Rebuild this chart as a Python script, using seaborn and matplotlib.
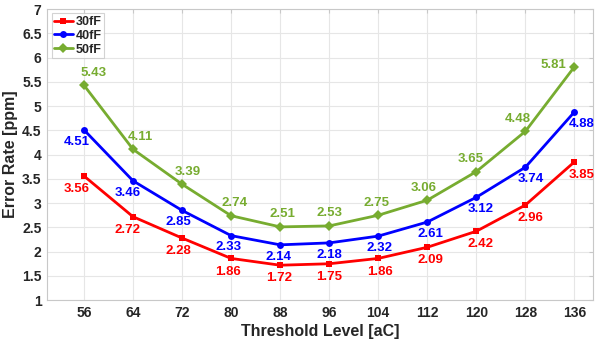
import pandas as pd
import matplotlib.pyplot as plt
import seaborn as sns

thresholds = [56, 64, 72, 80, 88, 96, 104, 112, 120, 128, 136]
err_30ff = [3.56, 2.72, 2.28, 1.86, 1.72, 1.75, 1.86, 2.09, 2.42, 2.96, 3.85]
err_40ff = [4.51, 3.46, 2.85, 2.33, 2.14, 2.18, 2.32, 2.61, 3.12, 3.74, 4.88]
err_50ff = [5.43, 4.11, 3.39, 2.74, 2.51, 2.53, 2.75, 3.06, 3.65, 4.48, 5.81]
series_names = ['30fF', '40fF', '50fF']


def main():
    df = pd.concat([
        pd.DataFrame({'Threshold': thresholds, 'Error': vals, 'Cap': name})
        for name, vals in zip(series_names, [err_30ff, err_40ff, err_50ff])
    ])

    sns.set_style('white')
    plt.rcParams['font.family'] = ['Liberation Sans', 'DejaVu Sans']
    colors = {'30fF': '#ff0000', '40fF': '#0000ff', '50fF': '#77ac30'}

    fig, ax = plt.subplots(figsize=(5.97, 3.49), dpi=100)
    sns.lineplot(data=df, x='Threshold', y='Error', hue='Cap', style='Cap',
                 markers={'30fF': 's', '40fF': 'o', '50fF': 'D'}, dashes=False,
                 palette=colors, linewidth=2, markersize=5, markeredgewidth=0,
                 ax=ax)

    # value labels: green above, blue/red below, drifting sideways away from the centre
    for name, vals in zip(series_names, [err_30ff, err_40ff, err_50ff]):
        for i, (x, y) in enumerate(zip(thresholds, vals)):
            side = (x - 96) / 40.0
            ha = 'center'
            if name == '50fF':
                dx, dy = -7 * side, 9
                if i == len(vals) - 1:
                    dx, dy, ha = -6, 1, 'right'
            elif name == '40fF':
                dx, dy = 5 * side, -8.5
            else:
                dx, dy = 5 * side, -9.5
            ax.annotate(f'{y:.2f}', (x, y), xytext=(dx, dy), textcoords='offset points',
                        ha=ha, va='center', fontsize=9.5, fontweight='bold',
                        color=colors[name])

    ax.set_xlim(50, 139)
    ax.set_ylim(1, 7)
    ax.set_xticks(thresholds)
    ax.set_yticks([1 + 0.5 * k for k in range(13)])
    ax.set_yticklabels([f'{1 + 0.5 * k:g}' for k in range(13)])
    ax.grid(True, color='#e6e6e6', linewidth=0.8)
    for s in ax.spines.values():
        s.set_color('#c8c8c8')
        s.set_linewidth(0.8)
    ax.tick_params(axis='both', labelsize=10, direction='in', length=3,
                   color='#c8c8c8', top=True, right=True, pad=4)
    for lbl in ax.get_xticklabels() + ax.get_yticklabels():
        lbl.set_fontweight('bold')
        lbl.set_color('#262626')
    ax.set_xlabel('Threshold Level [aC]', fontsize=11.5, fontweight='bold', color='#262626', labelpad=3)
    ax.set_ylabel('Error Rate [ppm]', fontsize=11.5, fontweight='bold', color='#262626', labelpad=3)

    leg = ax.legend(loc='upper left', fontsize=9, frameon=True, fancybox=False,
                    borderpad=0.2, handlelength=1.5, handletextpad=0.2,
                    labelspacing=0.15, borderaxespad=0.35)
    leg.get_frame().set_edgecolor('#c8c8c8')
    leg.get_frame().set_linewidth(0.8)
    leg.set_title(None)
    for t in leg.get_texts():
        t.set_fontweight('bold')
        t.set_color('#262626')

    fig.subplots_adjust(left=0.079, right=0.993, top=0.974, bottom=0.14)
    plt.savefig('out.png', dpi=100)


if __name__ == '__main__':
    main()
